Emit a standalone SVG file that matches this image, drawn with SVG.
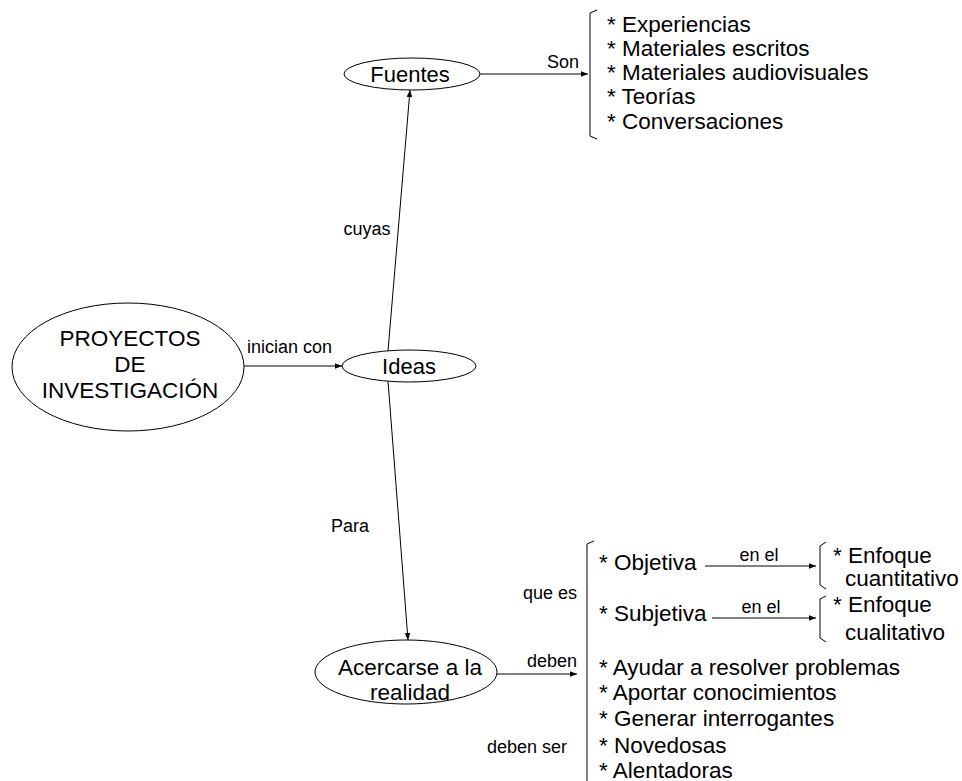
<svg xmlns="http://www.w3.org/2000/svg" width="962" height="781" viewBox="0 0 962 781">
<defs>
<marker id="ah" viewBox="0 0 10 10" refX="10" refY="5" markerWidth="7" markerHeight="7" markerUnits="userSpaceOnUse" orient="auto">
<path d="M0,1 L10,5 L0,9 Z" fill="#000"/>
</marker>
<style>
.n{fill:#fff;stroke:#000;stroke-width:1}
.t{font-family:"Liberation Sans",Arial,sans-serif;font-size:22px;fill:#000}
.s{font-size:22.5px}
.m{text-anchor:middle}
.e{text-anchor:end}
.l{font-family:"Liberation Sans",Arial,sans-serif;font-size:18px;fill:#000}
.c{fill:none;stroke:#000;stroke-width:1}
.a{marker-end:url(#ah)}
</style>
</defs>
<rect width="962" height="781" fill="#fff"/>
<g id="connectors">
<line class="c a" x1="244" y1="366" x2="342" y2="366"/>
<line class="c a" x1="388" y1="351" x2="410" y2="90"/>
<line class="c a" x1="388" y1="381" x2="408" y2="640"/>
<line class="c a" x1="480" y1="74" x2="588" y2="74"/>
<line class="c a" x1="497" y1="674" x2="577" y2="674"/>
<line class="c a" x1="705" y1="566" x2="816" y2="566"/>
<line class="c a" x1="712" y1="618" x2="816" y2="618"/>
<text class="l" x="247" y="353">inician con</text>
<text class="l m" x="367" y="235">cuyas</text>
<text class="l m" x="350" y="532">Para</text>
<text class="l e" x="579" y="68">Son</text>
<text class="l e" x="577" y="667">deben</text>
<text class="l e" x="577" y="599">que es</text>
<text class="l e" x="567" y="753">deben ser</text>
<text class="l m" x="759" y="561">en el</text>
<text class="l m" x="761" y="613">en el</text>
</g>
<g id="proyectos">
<ellipse class="n" cx="128" cy="367" rx="116" ry="64"/>
<text class="t s m" x="130" y="346">PROYECTOS</text>
<text class="t s m" x="130" y="372">DE</text>
<text class="t s m" x="130" y="398">INVESTIGACIÓN</text>
</g>
<g id="ideas">
<ellipse class="n" cx="409" cy="366" rx="67" ry="16"/>
<text class="t m" x="409" y="374">Ideas</text>
</g>
<g id="fuentes">
<ellipse class="n" cx="412" cy="74" rx="68" ry="16"/>
<text class="t m" x="410" y="82">Fuentes</text>
</g>
<g id="fuentes-lista">
<path class="c" d="M597,10 L590,13 L590,136 L597,139"/>
<text class="t s" x="607" y="32">* Experiencias</text>
<text class="t s" x="607" y="56">* Materiales escritos</text>
<text class="t s" x="607" y="80">* Materiales audiovisuales</text>
<text class="t s" x="607" y="104">* Teorías</text>
<text class="t s" x="607" y="129">* Conversaciones</text>
</g>
<g id="acercarse">
<ellipse class="n" cx="406" cy="672" rx="91" ry="32"/>
<text class="t s m" x="410" y="675">Acercarse a la</text>
<text class="t s m" x="410" y="700">realidad</text>
</g>
<g id="realidad-lista">
<path class="c" d="M594,541 L587,544 L587,781"/>
<text class="t s" x="599" y="570">* Objetiva</text>
<text class="t s" x="599" y="621">* Subjetiva</text>
<text class="t s" x="599" y="675">* Ayudar a resolver problemas</text>
<text class="t s" x="599" y="700">* Aportar conocimientos</text>
<text class="t s" x="599" y="726">* Generar interrogantes</text>
<text class="t s" x="599" y="753">* Novedosas</text>
<text class="t s" x="599" y="778">* Alentadoras</text>
</g>
<g id="cuantitativo">
<path class="c" d="M826,542 L820,546 L820,585 L826,589"/>
<text class="t s" x="833" y="563">* Enfoque</text>
<text class="t s" x="845" y="586">cuantitativo</text>
</g>
<g id="cualitativo">
<path class="c" d="M826,596 L820,599 L820,638 L826,642"/>
<text class="t s" x="833" y="612">* Enfoque</text>
<text class="t s" x="845" y="640">cualitativo</text>
</g>
</svg>
